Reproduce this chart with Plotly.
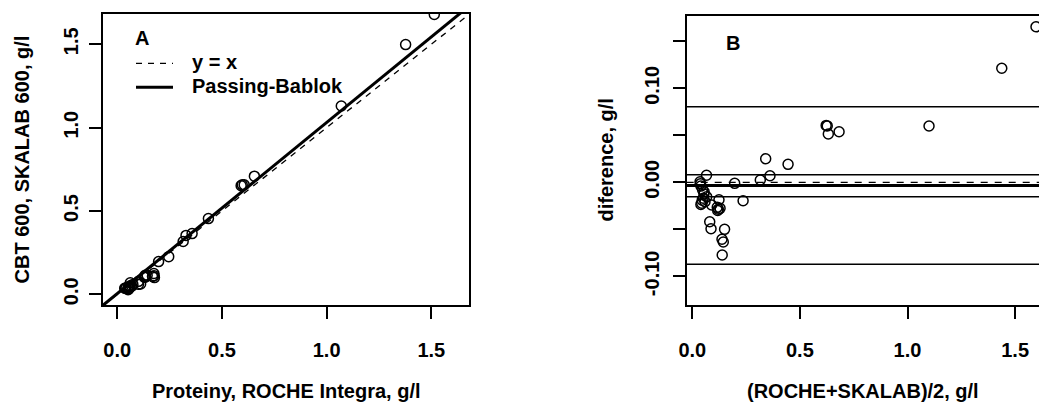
import plotly.graph_objects as go

W, H = 1039, 405

# Bland-Altman readings: mean of methods and difference (SKALAB - ROCHE), g/l
ba_mean = [1.597, 1.438, 1.100, 0.622, 0.627, 0.632, 0.682, 0.341, 0.445, 0.361,
           0.316, 0.197, 0.236, 0.066, 0.036, 0.038, 0.040, 0.048, 0.054, 0.051,
           0.044, 0.040, 0.059, 0.067, 0.090, 0.124, 0.116, 0.121, 0.129, 0.118,
           0.081, 0.087, 0.150, 0.138, 0.144, 0.139, 0.046, 0.055]
ba_diff = [0.1655, 0.1213, 0.0599, 0.0605, 0.0600, 0.0514, 0.0538, 0.0251, 0.0191, 0.0070,
           0.0024, -0.0011, -0.0196, 0.0075, 0.0005, -0.0015, -0.0040, -0.0082, -0.0124, -0.0170,
           -0.0223, -0.0235, -0.0206, -0.0153, -0.0241, -0.0185, -0.0266, -0.0287, -0.0277, -0.0300,
           -0.0419, -0.0494, -0.0500, -0.0606, -0.0635, -0.0773, -0.0190, -0.0100]

# derived method values
roche = [m - d / 2 for m, d in zip(ba_mean, ba_diff)]
skalab = [m + d / 2 for m, d in zip(ba_mean, ba_diff)]

# Passing-Bablok regression
pb_intercept = 0.004
pb_slope = 1.027

# Bland-Altman reference lines
mean_diff = -0.0035
ci_upper, ci_lower = 0.0081, -0.0153
loa_upper, loa_lower = 0.0804, -0.0872

ticks_a = [0.0, 0.5, 1.0, 1.5]
ticks_a_text = ["0.0", "0.5", "1.0", "1.5"]
ticks_b_y = [-0.10, -0.05, 0.0, 0.05, 0.10, 0.15]
ticks_b_y_text = ["-0.10", "", "0.00", "", "0.10", ""]
ticks_b_x = [0.0, 0.5, 1.0, 1.5]
ticks_b_x_text = ["0.0", "0.5", "1.0", "1.5"]

xr_a = [-0.068, 1.680]
yr_a = [-0.064, 1.682]
xr_b = [-0.026, 1.611]
yr_b = [-0.1305, 0.1769]

FONT = dict(family="Liberation Sans, Arial, sans-serif", size=20, color="black", weight="bold")


def px(x):
    return x / W


def py(y):
    return 1 - y / H


fig = go.Figure()

# Panel A
fig.add_trace(go.Scatter(x=xr_a, y=xr_a, mode="lines", xaxis="x", yaxis="y",
                         line=dict(color="black", width=1.3, dash="6px,6px"), showlegend=False))
fig.add_trace(go.Scatter(x=xr_a, y=[pb_intercept + pb_slope * v for v in xr_a], mode="lines",
                         xaxis="x", yaxis="y", line=dict(color="black", width=3), showlegend=False))
fig.add_trace(go.Scatter(x=roche, y=skalab, mode="markers", xaxis="x", yaxis="y",
                         marker=dict(symbol="circle-open", size=10, color="black", line=dict(width=1.5)),
                         showlegend=False))

# Panel B
hl = [(0.0, 1.3, "7px,7px"), (mean_diff, 3, "solid"), (ci_upper, 1.6, "solid"),
      (ci_lower, 1.6, "solid"), (loa_upper, 1.6, "solid"), (loa_lower, 1.6, "solid")]
for val, w, dash in hl:
    fig.add_trace(go.Scatter(x=xr_b, y=[val, val], mode="lines", xaxis="x2", yaxis="y2",
                             line=dict(color="black", width=w, dash=dash), showlegend=False))
fig.add_trace(go.Scatter(x=ba_mean, y=ba_diff, mode="markers", xaxis="x2", yaxis="y2",
                         marker=dict(symbol="circle-open", size=10, color="black", line=dict(width=1.5)),
                         showlegend=False))

axis_common = dict(showline=True, linecolor="black", linewidth=2, ticks="outside", ticklen=12,
                   tickwidth=2, tickcolor="black", showgrid=False, zeroline=False,
                   tickfont=FONT, tickmode="array", automargin=False)

fig.update_layout(
    template="none",
    width=W, height=H, margin=dict(l=0, r=0, t=0, b=0, pad=0),
    paper_bgcolor="white", plot_bgcolor="white",
    xaxis=dict(domain=[px(103), px(469)], range=xr_a, anchor="y", mirror=True,
               tickvals=ticks_a, ticktext=ticks_a_text, ticklabelstandoff=14, **axis_common),
    yaxis=dict(domain=[py(305), py(14)], range=yr_a, anchor="x", mirror=True,
               tickvals=ticks_a, ticktext=ticks_a_text, tickangle=-90, ticklabelstandoff=3,
               **axis_common),
    xaxis2=dict(domain=[px(686.7), 1.0], range=xr_b, anchor="y2", mirror=True,
                tickvals=ticks_b_x, ticktext=ticks_b_x_text, ticklabelstandoff=14, **axis_common),
    yaxis2=dict(domain=[py(305), py(16)], range=yr_b, anchor="x2", mirror=False,
                tickvals=ticks_b_y, ticktext=ticks_b_y_text, tickangle=-90, ticklabelstandoff=6,
                **axis_common),
)

annotations = [
    dict(text="Proteiny, ROCHE Integra, g/l", x=px(286), y=py(391), xanchor="center", yanchor="middle"),
    dict(text="(ROCHE+SKALAB)/2, g/l", x=px(863), y=py(391), xanchor="center", yanchor="middle"),
    dict(text="CBT 600, SKALAB 600, g/l", x=px(21), y=py(159.5), xanchor="center", yanchor="middle",
         textangle=-90),
    dict(text="diference, g/l", x=px(605), y=py(160.5), xanchor="center", yanchor="middle", textangle=-90),
    dict(text="A", x=px(133), y=py(38), xanchor="left", yanchor="middle"),
    dict(text="B", x=px(724), y=py(43), xanchor="left", yanchor="middle"),
    dict(text="y = x", x=px(190), y=py(62), xanchor="left", yanchor="middle"),
    dict(text="Passing-Bablok", x=px(190), y=py(86), xanchor="left", yanchor="middle"),
]
for a in annotations:
    a.update(xref="paper", yref="paper", showarrow=False, font=FONT)
fig.update_layout(annotations=annotations)

fig.update_layout(shapes=[
    dict(type="line", xref="paper", yref="paper", x0=px(136), x1=px(173), y0=py(63.3), y1=py(63.3),
         line=dict(color="black", width=1.3, dash="6px,6px")),
    dict(type="line", xref="paper", yref="paper", x0=px(136), x1=px(173), y0=py(87.3), y1=py(87.3),
         line=dict(color="black", width=3)),
])

fig.write_html(
    "out.html",
    config={"displayModeBar": False},
    post_script="document.body.style.margin='0px';document.body.style.overflow='hidden';",
)
